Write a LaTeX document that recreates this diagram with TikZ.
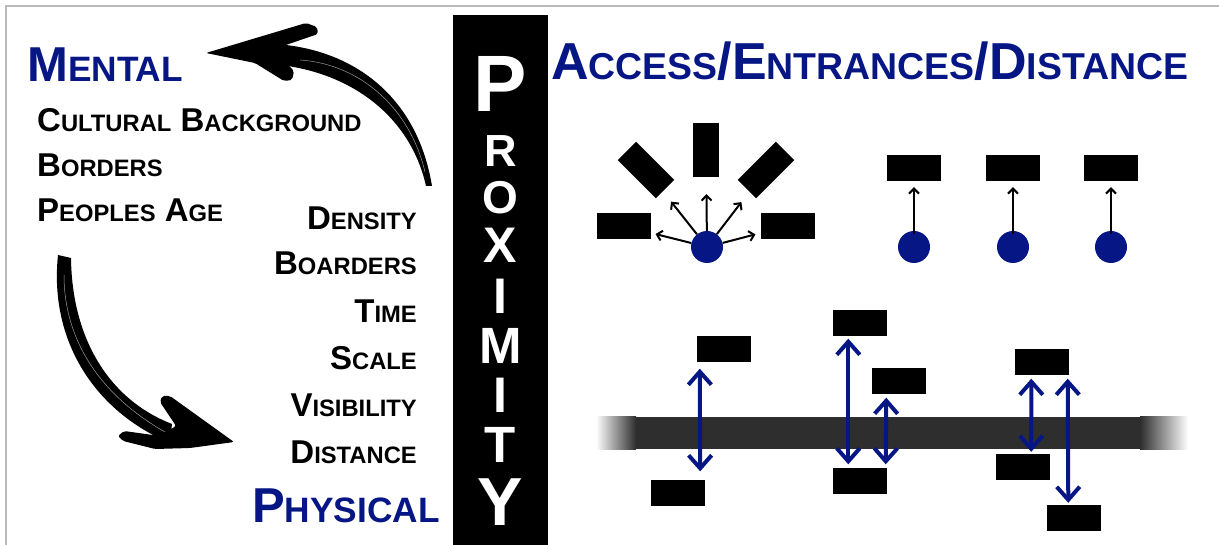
\documentclass[tikz,border=0pt]{standalone}
\usepackage{fontspec}
\setmainfont{Liberation Sans}
\usepackage{graphicx}
\usetikzlibrary{arrows.meta}
\definecolor{navy}{RGB}{6,22,132}
\definecolor{band}{RGB}{46,46,46}
\newcommand{\capsc}[2]{#1\scalebox{0.72}{#2}}

\begin{document}
\begin{tikzpicture}
  [x=1pt,y=-1pt,
   every node/.style={inner sep=0pt},
   item/.style={font=\bfseries\fontsize{33}{36}\selectfont},
   heading/.style={font=\bfseries\fontsize{49}{52}\selectfont,text=navy},
   title/.style={font=\bfseries\fontsize{52}{55}\selectfont,text=navy},
   letter/.style={text=white,font=\bfseries\fontsize{#1}{#1}\selectfont},
   blk/.style={fill=black,minimum width=54pt,minimum height=26pt},
   dot/.style={circle,fill=navy,minimum size=32pt},
   thin arrow/.style={-{Straight Barb[length=5pt,width=10pt]},line width=2pt},
   duo/.style={{Straight Barb[length=13pt,width=23pt]}-{Straight Barb[length=13pt,width=23pt]},draw=navy,line width=4pt}]
  \useasboundingbox (0,0) rectangle (1219,545);
  \draw[gray!55,line width=1.2pt] (6,545) -- (6,6) -- (1219,6);

  % left column
  \node[heading,anchor=base west] (mental) at (27,82) {\capsc{M}{ENTAL}};
  \node[item,anchor=base west] (cult) at (37,132) {\capsc{C}{ULTURAL} \capsc{B}{ACKGROUND}};
  \node[item,anchor=base west] (bord) at (37,177) {\capsc{B}{ORDERS}};
  \node[item,anchor=base west] (age)  at (37,222) {\capsc{P}{EOPLES} \capsc{A}{GE}};
  \foreach \n/\hd/\tl/\y in {dens/D/ENSITY/230,boar/B/OARDERS/275,time/T/IME/323,
                             scal/S/CALE/370,visi/V/ISIBILITY/417,dist/D/ISTANCE/463}
    \node[item,anchor=base east] (\n) at (417,\y) {\capsc{\hd}{\tl}};
  \node[heading,anchor=base east] (phys) at (440,522) {\capsc{P}{HYSICAL}};

  % brush arrows
  \fill (275,44) .. controls (352,49) and (417,95) .. (432,186)
    -- (426,186) .. controls (410,115) and (350,73) .. (280,65) -- cycle;
  \fill[rounded corners=2pt] (206,53) -- (306,23) -- (317,27) -- (318,34) -- (280,47)
    -- (278,55) -- (294,71) -- (292,80) -- (284,81) -- (255,63) -- cycle;
  \draw[white,opacity=0.6,line width=0.5pt] (300,60) .. controls (360,64) and (410,108) .. (425,172);
  \fill (58,255) .. controls (49,340) and (94,411) .. (170,443)
    -- (172,424) .. controls (110,400) and (72,340) .. (71,258) -- cycle;
  \fill[rounded corners=2pt] (234,442) -- (170,396) -- (162,396) -- (160,402) -- (176,426)
    -- (160,436) -- (124,431) -- (118,436) -- (123,441) -- (155,449) -- (190,448) -- cycle;
  \draw[white,opacity=0.6,line width=0.5pt] (64,275) .. controls (64,340) and (100,395) .. (165,432);

  % proximity bar
  \fill (453,15) rectangle (548,545);
  \foreach \ch/\y/\s [count=\i] in {P/84/80,R/151/45,O/198/46,X/245/50,I/296/50,
                                    M/346/51,I/395/50,T/445/51,Y/502/68}
    \node[letter=\s] (p\i) at (500.5,\y) {\ch};

  % right panel
  \node[title,anchor=base west] (head) at (551,80)
    {\capsc{A}{CCESS}/\capsc{E}{NTRANCES}/\capsc{D}{ISTANCE}};

  \node[blk] (lr) at (623.5,226) {};
  \node[blk,rotate=-45] (ul) at (646,170) {};
  \node[blk,rotate=90] (up) at (706,150) {};
  \node[blk,rotate=45] (ur) at (766,170) {};
  \node[blk] (rr) at (787.5,226) {};
  \node[dot] (hub) at (707,247) {};
  \foreach \to/\gap in {lr/5,ul/13,up/17,ur/13,rr/5}
    \draw[thin arrow,shorten >=\gap pt] (hub) -- (\to);

  \foreach \i/\x in {1/914,2/1013,3/1111} {
    \node[blk] (t\i) at (\x,168) {};
    \node[dot] (c\i) at (\x,247) {};
    \draw[thin arrow,shorten >=6pt,shorten <=-3pt] (c\i) -- (t\i);
  }

  \shade[left color=white,right color=band] (596,417) rectangle (636,449);
  \fill[band] (636,417) rectangle (1140,449);
  \shade[left color=band,right color=white] (1140,417) rectangle (1188,449);

  \foreach \n/\x/\y in {A1/724/349.5,A2/678/492.5,B1/859.5/323.5,B2/898.5/381.5,
                        B3/859.5/480.5,C1/1041.5/362.5,C2/1023/467,C3/1073.5/518}
    \node[blk] (\n) at (\x,\y) {};

  \draw[duo] ([xshift=3pt,yshift=-6pt]A1.south west) -- ([xshift=-5pt,yshift=8pt]A2.north east);
  \draw[duo] ([xshift=16pt,yshift=-2pt]B1.south west) -- ([xshift=16pt,yshift=3pt]B3.north west);
  \draw[duo] ([xshift=15pt,yshift=-3pt]B2.south west) -- ([xshift=-1pt,yshift=3pt]B3.north east);
  \draw[duo] ([xshift=17pt,yshift=-3pt]C1.south west) -- ([xshift=-19pt,yshift=2pt]C2.north east);
  \draw[duo] ([xshift=-1pt,yshift=-3pt]C1.south east) -- ([xshift=22pt,yshift=2pt]C3.north west);

\end{tikzpicture}
\end{document}
